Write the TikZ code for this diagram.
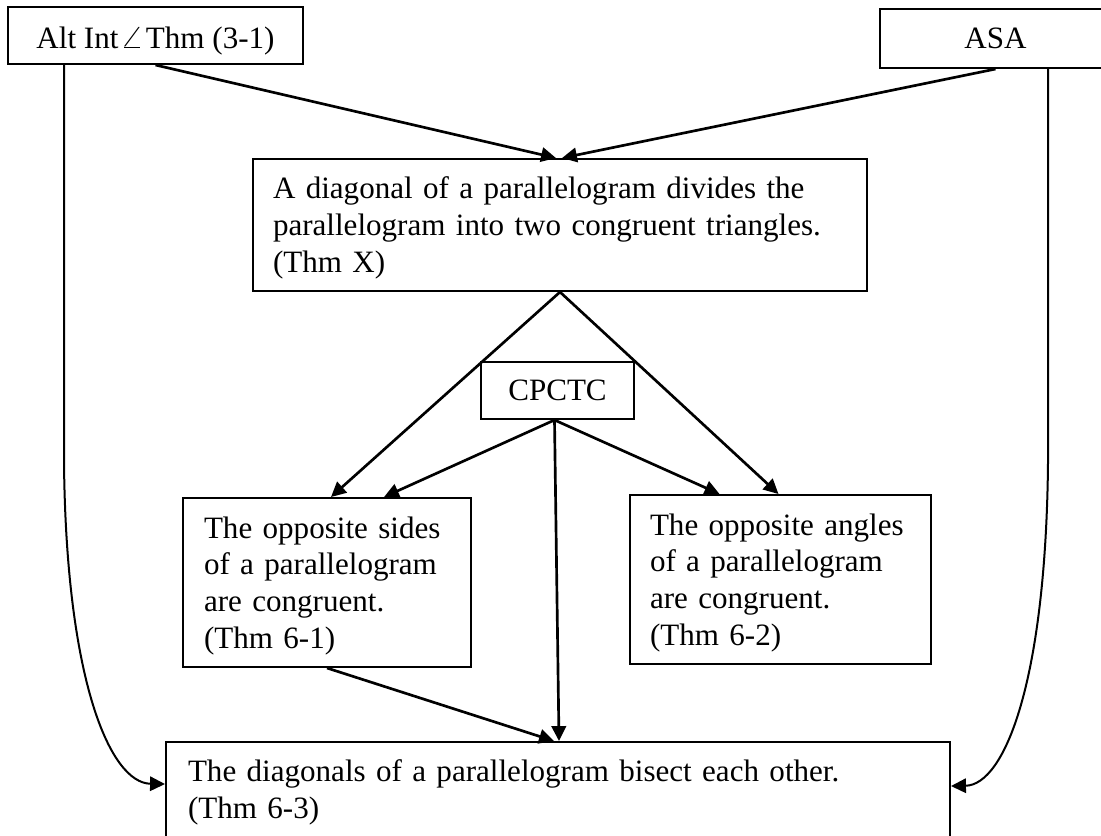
\documentclass[tikz,border=0pt]{standalone}
\usepackage{fontspec}
\usepackage{graphicx}
\setmainfont{Liberation Serif}
\usetikzlibrary{arrows.meta,calc}
\begin{document}
\begin{tikzpicture}[x=0.375pt,y=-0.375pt,
  box/.style={draw, line width=0.75pt, anchor=north west, inner ysep=0pt,
    font=\fontsize{11.65}{13.8}\selectfont, align=left},
  sbox/.style={draw, line width=0.75pt, anchor=north west, inner sep=0pt,
    font=\fontsize{11.65}{13.8}\selectfont, align=center},
  arr/.style={line width=1pt, -{Triangle[length=5.6pt,width=5.4pt]}},
  carr/.style={line width=0.75pt, -{Triangle[length=5.6pt,width=5.4pt]}}]
\path[use as bounding box, fill=white] (0,0) rectangle (1101,835);

\node[sbox, minimum width=110.625pt, minimum height=21.375pt, text height=9.4pt, text depth=0pt]
  (alt) at (7,6) {Alt Int\hspace{0.6pt}\scalebox{1.35}[1]{$\angle$}\hspace{0.8pt}Thm (3-1)};
\node[sbox, minimum width=86.625pt, minimum height=22.125pt] (asa) at (879,8) {ASA};

\node[box, inner xsep=7.5pt, text width=215.25pt, minimum width=230.25pt, minimum height=49.5pt]
  (thmx) at (252,158) {\rule{0pt}{10.4pt}A diagonal of a parallelogram divides the\\parallelogram into two congruent triangles.\\(Thm X)};

\node[sbox, minimum width=57.375pt, minimum height=21.375pt] (cp) at (480,361) {CPCTC};

\node[box, inner xsep=7.875pt, text width=92.25pt, minimum width=108pt, minimum height=63.375pt]
  (t61) at (182,497) {\rule{0pt}{10.6pt}The opposite sides\\of a parallelogram\\are congruent.\\(Thm 6-1)};
\node[box, inner xsep=7.5pt, text width=97.875pt, minimum width=112.875pt, minimum height=63.375pt]
  (t62) at (629,494) {\rule{0pt}{10.6pt}The opposite angles\\of a parallelogram\\are congruent.\\(Thm 6-2)};

\node[box, inner xsep=8.25pt, text width=277.5pt, minimum width=294pt, minimum height=37.5pt]
  (t63) at (165,741) {The diagonals of a parallelogram bisect each other.\\(Thm 6-3)};

% connectors
\draw[arr] (alt.south) -- ($(thmx.north)+(-4,0)$);
\draw[arr] (asa.south) -- ($(thmx.north)+(2,0)$);
\draw[arr] (thmx.south) -- ($(t61.north)+(4,0)$);
\draw[arr] (thmx.south) -- ($(t62.north)+(-2,0)$);
\draw[arr] ($(cp.south)+(-3,0)$) -- ($(t61.north)+(57,0)$);
\draw[arr] ($(cp.south)+(-3,0)$) -- ($(t62.north)+(-61,0)$);
\draw[arr] ($(cp.south)+(-3,0)$) -- ($(t63.north)+(1,0)$);
\draw[arr] (t61.south) -- ($(t63.north)+(-4,0)$);

\coordinate (lk) at ($(alt.south west)+(57,397)$);
\coordinate (rk) at ($(asa.south west)+(169,393)$);
\draw[carr] ($(alt.south west)+(57,0)$) -- (lk) .. controls (66,680) and (110,783) .. ($(t63.west)+(0,-8)$);
\draw[carr] ($(asa.south west)+(169,0)$) -- (rk) .. controls (1046,680) and (1005,785) .. ($(t63.east)+(0,-6)$);
\end{tikzpicture}
\end{document}
